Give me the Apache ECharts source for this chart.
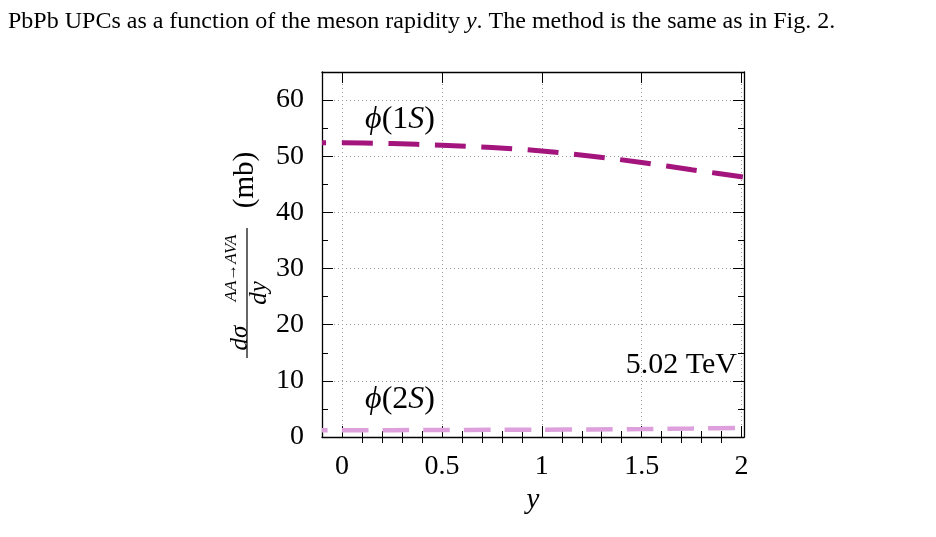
<!DOCTYPE html>
<html>
<head>
<meta charset="utf-8">
<script src="https://cdn.jsdelivr.net/npm/echarts@6/dist/echarts.min.js"></script>
<style>
  html, body { margin: 0; padding: 0; background: #fff; }
  #main { width: 936px; height: 537px; }
</style>
</head>
<body>
<div id="main"></div>
<script>
// rapidity y
var rapidity = [-0.1, 0, 0.25, 0.5, 0.75, 1, 1.25, 1.5, 1.75, 2, 2.012];
// dsigma/dy (mb)
var phi1S = [52.4, 52.4, 52.25, 51.95, 51.55, 50.95, 50.0, 48.9, 47.6, 46.35, 46.3];
var phi2S = [1.2, 1.2, 1.22, 1.24, 1.27, 1.3, 1.35, 1.41, 1.5, 1.6, 1.6];

var xTicks = [0, 0.5, 1, 1.5, 2];
var xMinorTicks = [0.1, 0.2, 0.3, 0.4, 0.6, 0.7, 0.8, 0.9, 1.1, 1.2, 1.3, 1.4, 1.6, 1.7, 1.8, 1.9];

var serif = "Liberation Serif";

function pairs(xs, ys) {
  return xs.map(function (x, i) { return [x, ys[i]]; });
}

var myChart = echarts.init(document.getElementById("main"));

var xBase = {
  type: "value",
  min: -0.1,
  max: 2.012,
  axisLine: { show: true, onZero: false, lineStyle: { color: "#000", width: 1.3 } },
  axisLabel: { show: false },
  splitLine: { show: false }
};

var centered = { align: "center", verticalAlign: "middle", textAlign: "center", textVerticalAlign: "middle" };

myChart.setOption({
  animation: false,
  backgroundColor: "#fff",
  textStyle: { fontFamily: serif },
  grid: { left: 322, top: 72, width: 422, height: 365 },
  xAxis: [
    Object.assign({}, xBase, {
      position: "bottom",
      name: "y",
      nameLocation: "middle",
      nameGap: 31,
      nameTextStyle: { fontFamily: serif, fontStyle: "italic", fontSize: 29, color: "#000" },
      axisTick: { inside: true, length: 11, customValues: xTicks, lineStyle: { color: "#000" } },
      axisLabel: { show: true, customValues: xTicks, margin: 16, fontFamily: serif, fontSize: 28, color: "#000" },
      splitLine: { show: true, lineStyle: { color: "#999", type: [1, 3], width: 1 } }
    }),
    Object.assign({}, xBase, {
      position: "bottom",
      axisLine: { show: false },
      axisTick: { inside: true, length: 6, customValues: xMinorTicks, lineStyle: { color: "#000" } }
    }),
    Object.assign({}, xBase, {
      position: "top",
      axisTick: { inside: true, length: 11, customValues: xTicks, lineStyle: { color: "#000" } }
    }),
    Object.assign({}, xBase, {
      position: "top",
      axisLine: { show: false },
      axisTick: { inside: true, length: 6, customValues: xMinorTicks, lineStyle: { color: "#000" } }
    })
  ],
  yAxis: [
    {
      type: "value",
      position: "left",
      min: 0,
      max: 65,
      interval: 10,
      axisLine: { show: true, onZero: false, lineStyle: { color: "#000", width: 1.3 } },
      axisTick: { inside: true, length: 11, lineStyle: { color: "#000" } },
      minorTick: { show: true, splitNumber: 2, length: 6, lineStyle: { color: "#000" } },
      axisLabel: { margin: 18, showMaxLabel: false, fontFamily: serif, fontSize: 28, color: "#000" },
      splitLine: { show: true, showMaxLine: false, lineStyle: { color: "#999", type: [1, 3], width: 1 } }
    },
    {
      type: "value",
      position: "right",
      min: 0,
      max: 65,
      interval: 10,
      axisLine: { show: true, onZero: false, lineStyle: { color: "#000", width: 1.3 } },
      axisTick: { inside: true, length: 11, lineStyle: { color: "#000" } },
      minorTick: { show: true, splitNumber: 2, length: 6, lineStyle: { color: "#000" } },
      axisLabel: { show: false },
      splitLine: { show: false }
    }
  ],
  series: [
    {
      name: "phi(1S)",
      type: "line",
      xAxisIndex: 0,
      yAxisIndex: 0,
      data: pairs(rapidity, phi1S),
      showSymbol: false,
      smooth: 0.3,
      lineStyle: { color: "#A3157D", width: 5, type: [31, 15.5], dashOffset: 26.7, cap: "butt" }
    },
    {
      name: "phi(2S)",
      type: "line",
      xAxisIndex: 0,
      yAxisIndex: 0,
      data: pairs(rapidity, phi2S),
      showSymbol: false,
      smooth: 0.3,
      lineStyle: { color: "#DDA0DD", width: 4.5, type: [26.7, 14], dashOffset: 20.9, cap: "butt" }
    }
  ],
  graphic: [
    // caption line of the paper
    {
      type: "text", x: 8, y: 22,
      style: {
        text: "{n|PbPb UPCs as a function of the meson rapidity }{i|y}{n|. The method is the same as in Fig. 2.}",
        align: "left", verticalAlign: "middle", textAlign: "left", textVerticalAlign: "middle",
        rich: {
          n: { fontFamily: serif, fontSize: 24, fill: "#000" },
          i: { fontFamily: serif, fontSize: 24, fontStyle: "italic", fill: "#000" }
        }
      }
    },
    {
      type: "text", x: 400, y: 120,
      style: Object.assign({
        text: "{i|ϕ}{n|(1}{i|S}{n|)}",
        rich: {
          n: { fontFamily: serif, fontSize: 32, fill: "#000" },
          i: { fontFamily: serif, fontSize: 32, fontStyle: "italic", fill: "#000" }
        }
      }, centered)
    },
    {
      type: "text", x: 400, y: 400,
      style: Object.assign({
        text: "{i|ϕ}{n|(2}{i|S}{n|)}",
        rich: {
          n: { fontFamily: serif, fontSize: 32, fill: "#000" },
          i: { fontFamily: serif, fontSize: 32, fontStyle: "italic", fill: "#000" }
        }
      }, centered)
    },
    {
      type: "text", x: 737, y: 365,
      style: {
        text: "5.02 TeV", fontFamily: serif, fontSize: 30, fill: "#000",
        align: "right", verticalAlign: "middle", textAlign: "right", textVerticalAlign: "middle"
      }
    },
    // y axis title: d sigma^{AA->AVA} / dy (mb)
    {
      type: "text", x: 240, y: 338, rotation: Math.PI / 2,
      style: Object.assign({ text: "dσ", fontFamily: serif, fontSize: 25, fontStyle: "italic", fill: "#000" }, centered)
    },
    {
      type: "text", x: 232, y: 268, rotation: Math.PI / 2,
      style: Object.assign({ text: "AA→AVA", fontFamily: serif, fontSize: 17, fontStyle: "italic", fill: "#000" }, centered)
    },
    {
      type: "line",
      shape: { x1: 247, y1: 228, x2: 247, y2: 358 },
      style: { stroke: "#000", lineWidth: 1.2 }
    },
    {
      type: "text", x: 259, y: 293, rotation: Math.PI / 2,
      style: Object.assign({ text: "dy", fontFamily: serif, fontSize: 25, fontStyle: "italic", fill: "#000" }, centered)
    },
    {
      type: "text", x: 245, y: 180, rotation: Math.PI / 2,
      style: Object.assign({ text: "(mb)", fontFamily: serif, fontSize: 29, fill: "#000" }, centered)
    }
  ]
});
</script>
</body>
</html>
